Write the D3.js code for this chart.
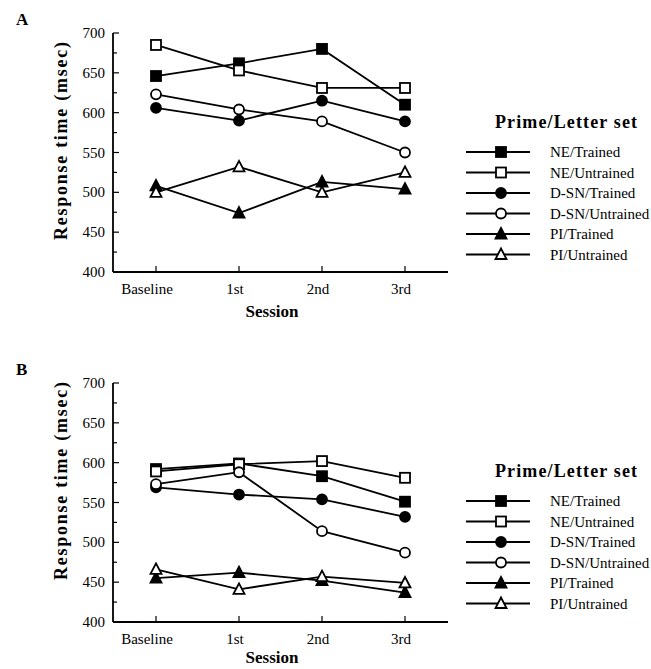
<!DOCTYPE html>
<html>
<head>
<meta charset="utf-8">
<script src="https://cdn.jsdelivr.net/npm/d3@7"></script>
<style>
  body { margin: 0; background: #fff; }
  text { font-family: "Liberation Serif", "Times New Roman", serif; fill: #000; }
</style>
</head>
<body>
<svg width="651" height="669"></svg>
<script>
var sessions = ["Baseline", "1st", "2nd", "3rd"];
var seriesNames = ["NE/Trained", "NE/Untrained", "D-SN/Trained", "D-SN/Untrained", "PI/Trained", "PI/Untrained"];
var yTicks = [400, 450, 500, 550, 600, 650, 700];

// panel A values, one row per series
var valuesA = [
  [646, 662, 680, 610],
  [685, 653, 631, 631],
  [606, 590, 615, 589],
  [623, 604, 589, 550],
  [508, 474, 513, 504],
  [500, 532, 500, 525]
];
// panel B values
var valuesB = [
  [592, 599, 583, 551],
  [589, 598, 602, 581],
  [569, 560, 554, 532],
  [573, 588, 514, 487],
  [455, 462, 452, 437],
  [466, 441, 457, 449]
];

var shapes = ["square", "square", "circle", "circle", "triangle", "triangle"];
var filled = [true, false, true, false, true, false];

var svg = d3.select("svg");

function marker(g, shape, fill, x, y) {
  var f = fill ? "#000" : "#fff";
  if (shape == "square") {
    g.append("rect").attr("x", x - 5).attr("y", y - 5).attr("width", 10).attr("height", 10)
      .attr("fill", f).attr("stroke", "#000").attr("stroke-width", 1.8);
  } else if (shape == "circle") {
    g.append("circle").attr("cx", x).attr("cy", y).attr("r", 5)
      .attr("fill", f).attr("stroke", "#000").attr("stroke-width", 1.8);
  } else {
    g.append("path").attr("d", "M" + x + "," + (y - 6) + "L" + (x + 5.5) + "," + (y + 4.5) + "L" + (x - 5.5) + "," + (y + 4.5) + "Z")
      .attr("fill", f).attr("stroke", "#000").attr("stroke-width", 1.8);
  }
}

function panel(letter, values, top, bottom, legendTop, ylabY, sessionY) {
  var g = svg.append("g");
  var x = d3.scalePoint().domain(sessions).range([156, 405]);
  var y = d3.scaleLinear().domain([400, 700]).range([bottom, top]);

  g.append("text").attr("x", 16).attr("y", top - 8).attr("font-size", 17)
    .attr("font-weight", "bold").text(letter);

  // axes lines
  g.append("line").attr("x1", 113).attr("x2", 113).attr("y1", top).attr("y2", bottom)
    .attr("stroke", "#000").attr("stroke-width", 1.8);
  g.append("line").attr("x1", 113).attr("x2", 448).attr("y1", bottom).attr("y2", bottom)
    .attr("stroke", "#000").attr("stroke-width", 1.8);

  // y ticks, major and minor pointing inward
  d3.range(400, 701, 25).forEach(function(v) {
    var major = v % 50 == 0;
    g.append("line").attr("x1", 113).attr("x2", 113 + (major ? 6 : 4))
      .attr("y1", y(v)).attr("y2", y(v)).attr("stroke", "#000").attr("stroke-width", 1.2);
  });
  g.selectAll(".yt").data(yTicks).enter().append("text")
    .attr("x", 105).attr("y", function(d) { return y(d) + 5; })
    .attr("text-anchor", "end").attr("font-size", 15).text(function(d) { return d; });

  // x ticks
  sessions.forEach(function(s) {
    g.append("line").attr("x1", x(s)).attr("x2", x(s)).attr("y1", bottom).attr("y2", bottom - 6)
      .attr("stroke", "#000").attr("stroke-width", 1.2);
  });
  g.selectAll(".xt").data(sessions).enter().append("text")
    .attr("x", function(d, i) { return x(d) - (i == 0 ? 9 : 4); }).attr("y", bottom + 22)
    .attr("text-anchor", "middle").attr("font-size", 15).text(function(d) { return d; });

  g.append("text").attr("x", 272).attr("y", sessionY).attr("text-anchor", "middle")
    .attr("font-size", 17).attr("font-weight", "bold").text("Session");

  g.append("text").attr("transform", "translate(67," + ylabY + ") rotate(-90)")
    .attr("text-anchor", "middle").attr("font-size", 18).attr("font-weight", "bold")
    .attr("textLength", 198).attr("lengthAdjust", "spacing")
    .text("Response  time  (msec)");

  var line = d3.line().x(function(d, i) { return x(sessions[i]); }).y(function(d) { return y(d); });

  values.forEach(function(vals, k) {
    g.append("path").attr("d", line(vals)).attr("fill", "none")
      .attr("stroke", "#000").attr("stroke-width", 1.8);
  });
  values.forEach(function(vals, k) {
    vals.forEach(function(v, i) { marker(g, shapes[k], filled[k], x(sessions[i]), y(v)); });
  });

  // legend
  g.append("text").attr("x", 566).attr("y", legendTop).attr("text-anchor", "middle")
    .attr("font-size", 18).attr("font-weight", "bold")
    .attr("textLength", 142).attr("lengthAdjust", "spacing")
    .text("Prime/Letter  set");
  seriesNames.forEach(function(name, k) {
    var ly = legendTop + 24 + k * 20.5;
    g.append("line").attr("x1", 466).attr("x2", 530).attr("y1", ly).attr("y2", ly)
      .attr("stroke", "#000").attr("stroke-width", 1.8);
    marker(g, shapes[k], filled[k], 501, ly);
    g.append("text").attr("x", 550).attr("y", ly + 5).attr("font-size", 15).text(name);
  });
}

panel("A", valuesA, 33, 272, 128, 141, 317);
panel("B", valuesB, 383, 622, 477, 481, 663);
</script>
</body>
</html>
